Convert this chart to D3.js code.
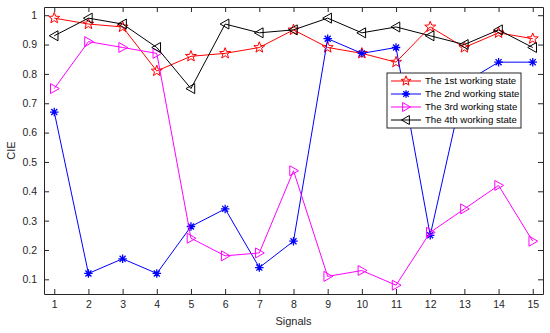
<!DOCTYPE html>
<html><head><meta charset="utf-8">
<script src="https://cdn.jsdelivr.net/npm/d3@7"></script>
<style>body{margin:0;background:#fff}svg{display:block}text{font-family:"Liberation Sans",Arial,sans-serif}</style>
</head><body>
<svg id="c" width="550" height="333"></svg>
<script>
const signals = [1,2,3,4,5,6,7,8,9,10,11,12,13,14,15];
const state1 = [0.99,0.97,0.96,0.81,0.86,0.87,0.89,0.95,0.89,0.87,0.84,0.96,0.89,0.94,0.92];
const state2 = [0.67,0.12,0.17,0.12,0.28,0.34,0.14,0.23,0.92,0.87,0.89,0.25,0.77,0.84,0.84];
const state3 = [0.75,0.91,0.89,0.87,0.24,0.18,0.19,0.47,0.11,0.13,0.08,0.26,0.34,0.42,0.23];
const state4 = [0.93,0.99,0.97,0.89,0.75,0.97,0.94,0.95,0.99,0.94,0.96,0.93,0.90,0.95,0.89];
const seriesNames = ["The 1st working state","The 2nd working state","The 3rd working state","The 4th working state"];
const yTicks = [0.1,0.2,0.3,0.4,0.5,0.6,0.7,0.8,0.9,1];

const series = [
  {name: seriesNames[0], values: state1, color: "#ff0000", marker: "star"},
  {name: seriesNames[1], values: state2, color: "#0000ff", marker: "asterisk"},
  {name: seriesNames[2], values: state3, color: "#ff00ff", marker: "tright"},
  {name: seriesNames[3], values: state4, color: "#000000", marker: "tleft"}
];

const svg = d3.select("#c");
const L = 44, R = 543, T = 7, B = 294;
const x = d3.scaleLinear().domain([0.7, 15.3]).range([L, R]);
const y = d3.scaleLinear().domain([0.05, 1.028]).range([B, T]);
const axisColor = "#262626";

function markerPath(type, r) {
  if (type === "star") {
    const pts = [];
    for (let i = 0; i < 10; i++) {
      const a = -Math.PI/2 + i*Math.PI/5;
      const rr = i % 2 === 0 ? r*1.15 : r*0.48;
      pts.push([rr*Math.cos(a), rr*Math.sin(a)]);
    }
    return "M" + pts.map(p => p[0].toFixed(2)+","+p[1].toFixed(2)).join("L") + "Z";
  }
  if (type === "asterisk") {
    const d = r*0.85, e = d*0.707;
    return `M${-d},0L${d},0M0,${-d}L0,${d}M${-e},${-e}L${e},${e}M${-e},${e}L${e},${-e}`;
  }
  if (type === "tright") {
    return `M${-r*0.75},${-r}L${r},0L${-r*0.75},${r}Z`;
  }
  if (type === "tleft") {
    return `M${r*0.75},${-r}L${-r},0L${r*0.75},${r}Z`;
  }
}

// axes box
const g = svg.append("g");
const xAxisB = d3.axisBottom(x).tickValues(signals).tickSizeInner(-5).tickSizeOuter(0).tickPadding(7);
const xAxisT = d3.axisTop(x).tickValues(signals).tickSizeInner(-5).tickSizeOuter(0).tickFormat("");
const yAxisL = d3.axisLeft(y).tickValues(yTicks).tickSizeInner(-5).tickSizeOuter(0).tickPadding(7).tickFormat(d3.format("~g"));
const yAxisR = d3.axisRight(y).tickValues(yTicks).tickSizeInner(-5).tickSizeOuter(0).tickFormat("");

function styleAxis(sel) {
  sel.select(".domain").attr("stroke", axisColor).attr("stroke-width", 1);
  sel.selectAll(".tick line").attr("stroke", axisColor);
  sel.selectAll(".tick text").attr("fill", axisColor).style("font-size", "10.5px").style("font-family", '"Liberation Sans",Arial,sans-serif');
}
g.append("g").attr("transform", `translate(0,${B})`).call(xAxisB).call(styleAxis);
g.append("g").attr("transform", `translate(0,${T})`).call(xAxisT).call(styleAxis);
g.append("g").attr("transform", `translate(${L},0)`).call(yAxisL).call(styleAxis);
g.append("g").attr("transform", `translate(${R},0)`).call(yAxisR).call(styleAxis);

// labels
svg.append("text").attr("x", (L+R)/2).attr("y", 325).attr("text-anchor", "middle")
  .attr("fill", axisColor).style("font-size", "11px").text("Signals");
svg.append("text").attr("transform", `translate(15,${(T+B)/2}) rotate(-90)`).attr("text-anchor", "middle")
  .attr("fill", axisColor).style("font-size", "11px").text("CIE");

// series
const line = d3.line().x((d,i) => x(signals[i])).y(d => y(d));
series.forEach(s => {
  const sg = svg.append("g");
  sg.append("path").datum(s.values).attr("d", line).attr("fill", "none")
    .attr("stroke", s.color).attr("stroke-width", 1);
  sg.selectAll("path.m").data(s.values).join("path").attr("class", "m")
    .attr("transform", (d,i) => `translate(${x(signals[i])},${y(d)})`)
    .attr("d", markerPath(s.marker, 5)).attr("fill", "none")
    .attr("stroke", s.color).attr("stroke-width", s.marker === "asterisk" ? 1.3 : 1);
});

// legend
const lg = svg.append("g");
const lx = 387, ly = 73, lw = 134, lh = 55;
lg.append("rect").attr("x", lx).attr("y", ly).attr("width", lw).attr("height", lh)
  .attr("fill", "#fff").attr("stroke", axisColor).attr("stroke-width", 1);
series.forEach((s, i) => {
  const yy = ly + 8 + i*13;
  lg.append("line").attr("x1", lx+4).attr("x2", lx+34).attr("y1", yy).attr("y2", yy)
    .attr("stroke", s.color).attr("stroke-width", 1);
  lg.append("path").attr("transform", `translate(${lx+19},${yy})`).attr("d", markerPath(s.marker, 4.5))
    .attr("fill", "none").attr("stroke", s.color).attr("stroke-width", s.marker === "asterisk" ? 1.3 : 1);
  lg.append("text").attr("x", lx+38).attr("y", yy).attr("dy", "0.35em")
    .attr("fill", "#000").style("font-size", "9.6px").text(s.name);
});
</script>
</body></html>
